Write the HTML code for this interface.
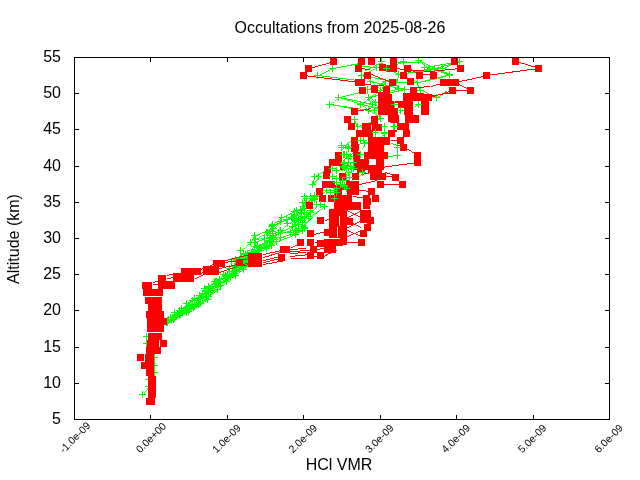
<!DOCTYPE html>
<html><head><meta charset="utf-8"><style>
html,body{margin:0;padding:0;background:#fff;width:640px;height:480px;overflow:hidden}
svg{display:block;will-change:transform}
.t{font-family:"Liberation Sans",sans-serif;font-size:16px;fill:#000}
.s{font-family:"Liberation Sans",sans-serif;font-size:10.4px;fill:#000}
</style></head><body>
<svg width="640" height="480" viewBox="0 0 640 480" shape-rendering="crispEdges">
<path d="M361.5 104.5L368.5 97.5M312.5 184.5L320.5 176.5M300.5 222.5L318.5 204.5M302.5 226.5L318.5 210.5M208.5 290.5L215.5 283.5M308.5 204.5L316.5 196.5M273.5 228.5L280.5 221.5M226.5 281.5L233.5 274.5M172.5 317.5L179.5 310.5M179.5 310.5L186.5 303.5M273.5 237.5L280.5 230.5M280.5 230.5L287.5 223.5M235.5 270.5L242.5 263.5M304.5 227.5L296.5 219.5M199.5 303.5L206.5 296.5M216.5 281.5L223.5 274.5M286.5 219.5L294.5 211.5M217.5 286.5L225.5 278.5" stroke="#00ff00" fill="none" stroke-width="0.7"/>
<path d="M300.5 214.5L316.5 196.5M290.5 236.5L312.5 216.5M269.5 240.5L278.5 232.5M217.5 289.5L226.5 281.5M174.5 318.5L183.5 310.5M370.5 81.5L380.5 90.5" stroke="#00ff00" fill="none" stroke-width="0.74"/>
<path d="M360.5 104.5L368.5 97.5M300.5 228.5L312.5 214.5M202.5 297.5L208.5 290.5M168.5 319.5L174.5 312.5M210.5 290.5L216.5 283.5M167.5 322.5L175.5 315.5M175.5 315.5L181.5 308.5M200.5 303.5L208.5 296.5M233.5 274.5L239.5 267.5M209.5 288.5L215.5 281.5M220.5 285.5L227.5 277.5M227.5 277.5L235.5 270.5M264.5 238.5L272.5 231.5M187.5 306.5L194.5 298.5M243.5 269.5L249.5 262.5" stroke="#00ff00" fill="none" stroke-width="0.76"/>
<path d="M329.5 104.5L338.5 97.5M420.5 62.5L430.5 70.5M341.5 147.5L350.5 140.5M290.5 228.5L310.5 212.5M215.5 283.5L225.5 275.5M291.5 217.5L300.5 210.5M200.5 298.5L210.5 290.5M230.5 276.5L239.5 269.5M272.5 224.5L281.5 217.5M240.5 250.5L250.5 242.5M208.5 296.5L217.5 289.5M295.5 234.5L304.5 227.5M178.5 313.5L187.5 306.5M207.5 291.5L216.5 284.5M384.5 133.5L375.5 140.5" stroke="#00ff00" fill="none" stroke-width="0.78"/>
<path d="M142.5 394.5L148.5 386.5M186.5 312.5L192.5 304.5M266.5 232.5L272.5 224.5M181.5 308.5L192.5 300.5M259.5 248.5L270.5 240.5M360.5 104.5L368.5 110.5M374.5 110.5L380.5 118.5M318.5 176.5L312.5 184.5" stroke="#00ff00" fill="none" stroke-width="0.8"/>
<path d="M436.5 97.5L446.5 90.5M292.5 224.5L312.5 210.5M192.5 304.5L202.5 297.5M272.5 239.5L267.5 232.5M267.5 232.5L272.5 225.5M300.5 210.5L305.5 203.5M259.5 247.5L269.5 240.5M188.5 311.5L198.5 304.5M200.5 297.5L205.5 290.5M234.5 271.5L244.5 264.5M199.5 295.5L209.5 288.5M199.5 295.5L204.5 288.5M204.5 288.5L214.5 281.5M210.5 292.5L220.5 285.5M242.5 263.5L252.5 256.5M266.5 248.5L276.5 241.5M269.5 245.5L264.5 238.5M168.5 320.5L178.5 313.5M197.5 300.5L202.5 293.5M249.5 264.5L244.5 257.5M381.5 61.5L386.5 68.5M368.5 97.5L375.5 102.5" stroke="#00ff00" fill="none" stroke-width="0.82"/>
<path d="M449.5 74.5L452.5 76.5M312.5 214.5L324.5 206.5M245.5 254.5L257.5 246.5M189.5 305.5L200.5 298.5M231.5 261.5L243.5 253.5M243.5 253.5L254.5 246.5M255.5 239.5L266.5 232.5M309.5 203.5L314.5 195.5M208.5 286.5L219.5 279.5M303.5 206.5L314.5 199.5M172.5 317.5L183.5 310.5M229.5 274.5L234.5 266.5M206.5 296.5L217.5 289.5M248.5 255.5L259.5 248.5M225.5 278.5L236.5 271.5M361.5 75.5L370.5 81.5M372.5 104.5L368.5 110.5M368.5 110.5L380.5 118.5" stroke="#00ff00" fill="none" stroke-width="0.84"/>
<path d="M354.5 119.5L358.5 126.5M314.5 176.5L324.5 170.5M316.5 196.5L330.5 188.5M225.5 275.5L229.5 268.5M243.5 261.5L255.5 254.5M255.5 254.5L259.5 247.5M244.5 264.5L240.5 257.5M250.5 242.5L254.5 235.5M239.5 260.5L253.5 252.5M253.5 252.5L257.5 245.5M215.5 281.5L227.5 274.5M243.5 266.5L239.5 259.5M267.5 245.5L280.5 237.5M186.5 303.5L199.5 295.5M180.5 314.5L194.5 306.5M252.5 256.5L266.5 248.5M223.5 274.5L235.5 267.5M230.5 277.5L243.5 269.5M179.5 315.5L193.5 307.5M193.5 307.5L197.5 300.5M380.5 90.5L368.5 97.5M368.5 97.5L372.5 104.5" stroke="#00ff00" fill="none" stroke-width="0.86"/>
<path d="M173.5 319.5L188.5 311.5M205.5 290.5L220.5 282.5M296.5 210.5L309.5 203.5M192.5 300.5L205.5 293.5M219.5 279.5L234.5 271.5M239.5 259.5L252.5 252.5M167.5 321.5L180.5 314.5M194.5 306.5L207.5 299.5M235.5 267.5L248.5 260.5M194.5 298.5L207.5 291.5M166.5 322.5L179.5 315.5M236.5 271.5L249.5 264.5M376.5 67.5L361.5 75.5M385.5 81.5L380.5 90.5" stroke="#00ff00" fill="none" stroke-width="0.88"/>
<path d="M317.5 75.5L332.5 68.5M364.5 70.5L380.5 62.5M442.5 68.5L450.5 64.5M368.5 111.5L378.5 106.5M290.5 232.5L306.5 224.5M171.5 319.5L186.5 312.5M257.5 246.5L272.5 239.5M174.5 312.5L189.5 305.5M216.5 283.5L230.5 276.5M239.5 269.5L243.5 261.5M294.5 211.5L308.5 204.5M220.5 282.5L235.5 275.5M281.5 217.5L296.5 210.5M170.5 317.5L185.5 310.5M185.5 310.5L200.5 303.5M257.5 245.5L271.5 238.5M227.5 274.5L243.5 266.5M252.5 252.5L267.5 245.5M214.5 281.5L229.5 274.5M287.5 223.5L301.5 216.5M216.5 284.5L230.5 277.5M271.5 226.5L286.5 219.5M202.5 293.5L217.5 286.5M244.5 257.5L258.5 250.5M258.5 250.5L254.5 242.5M418.5 60.5L434.5 68.5M332.5 68.5L317.5 75.5M386.5 68.5L398.5 74.5M396.5 82.5L380.5 90.5M375.5 102.5L378.5 108.5" stroke="#00ff00" fill="none" stroke-width="0.9"/>
<path d="M354.5 119.5L357.5 126.5M229.5 268.5L246.5 261.5M272.5 225.5L291.5 217.5M278.5 232.5L295.5 225.5M295.5 225.5L292.5 218.5M235.5 275.5L232.5 268.5M205.5 293.5L208.5 286.5M183.5 310.5L199.5 303.5M235.5 259.5L251.5 252.5M207.5 299.5L210.5 292.5M183.5 310.5L199.5 303.5M403.5 61.5L386.5 68.5M434.5 68.5L449.5 74.5M398.5 74.5L417.5 82.5M385.5 81.5L367.5 89.5M420.5 90.5L436.5 97.5M354.5 119.5L357.5 126.5" stroke="#00ff00" fill="none" stroke-width="0.92"/>
<path d="M450.5 64.5L459.5 61.5M437.5 78.5L449.5 74.5M254.5 235.5L273.5 228.5M280.5 221.5L301.5 213.5M251.5 252.5L271.5 245.5M276.5 241.5L295.5 234.5M247.5 253.5L269.5 245.5M254.5 242.5L272.5 235.5M396.5 82.5L398.5 88.5M417.5 82.5L420.5 90.5M380.5 118.5L357.5 126.5" stroke="#00ff00" fill="none" stroke-width="0.94"/>
<path d="M292.5 218.5L294.5 211.5M198.5 304.5L200.5 297.5M301.5 213.5L303.5 206.5M280.5 237.5L302.5 230.5M270.5 240.5L272.5 233.5M272.5 235.5L298.5 228.5M459.5 61.5L434.5 68.5M424.5 67.5L449.5 74.5M398.5 88.5L368.5 97.5M338.5 97.5L360.5 104.5" stroke="#00ff00" fill="none" stroke-width="0.96"/>
<path d="M332.5 68.5L358.5 63.5M338.5 97.5L358.5 92.5M329.5 104.5L352.5 108.5M398.5 74.5L420.5 70.5M420.5 70.5L434.5 68.5M417.5 82.5L436.5 78.5M404.5 89.5L398.5 88.5M440.5 72.5L449.5 74.5M329.5 104.5L340.5 106.5M340.5 106.5L350.5 108.5M246.5 261.5L245.5 254.5M305.5 203.5L304.5 196.5M232.5 268.5L231.5 261.5M254.5 246.5L255.5 239.5M234.5 266.5L235.5 259.5M271.5 245.5L273.5 237.5M248.5 260.5L247.5 253.5M249.5 262.5L248.5 255.5M272.5 233.5L271.5 226.5M459.5 61.5L424.5 67.5M361.5 75.5L396.5 82.5M398.5 74.5L396.5 82.5M449.5 74.5L417.5 82.5M370.5 81.5L398.5 88.5M404.5 89.5L368.5 97.5M338.5 97.5L372.5 104.5M329.5 104.5L368.5 110.5M360.5 104.5L378.5 108.5M378.5 108.5L380.5 118.5M357.5 126.5L375.5 130.5M375.5 140.5L341.5 147.5M314.5 176.5L312.5 184.5" stroke="#00ff00" fill="none" stroke-width="0.98"/>
<path d="M317.5 75.5L358.5 80.5M350.5 64.5L358.5 64.5M362.5 66.5L376.5 67.5M390.5 62.5L420.5 62.5M396.5 82.5L417.5 82.5M398.5 88.5L420.5 90.5M424.5 67.5L434.5 68.5M434.5 68.5L442.5 68.5M148.5 386.5L148.5 379.5M154.5 354.5L154.5 376.5M240.5 257.5L240.5 250.5M239.5 267.5L239.5 260.5M199.5 303.5L199.5 295.5M217.5 289.5L216.5 281.5M442.5 68.5L398.5 74.5M367.5 89.5L368.5 97.5M384.5 126.5L384.5 133.5M375.5 130.5L375.5 140.5M375.5 132.5L375.5 140.5" stroke="#00ff00" fill="none" stroke-width="1.0"/>
<path d="M329.0 68.5h7M332.5 65.0v7M314.0 75.5h7M317.5 72.0v7M358.0 75.5h7M361.5 72.0v7M335.0 97.5h7M338.5 94.0v7M326.0 104.5h7M329.5 101.0v7M357.0 104.5h7M360.5 101.0v7M365.0 97.5h7M368.5 94.0v7M365.0 110.5h7M368.5 107.0v7M351.0 119.5h7M354.5 116.0v7M354.0 126.5h7M357.5 123.0v7M378.0 61.5h7M381.5 58.0v7M373.0 67.5h7M376.5 64.0v7M383.0 68.5h7M386.5 65.0v7M367.0 81.5h7M370.5 78.0v7M382.0 81.5h7M385.5 78.0v7M364.0 89.5h7M367.5 86.0v7M377.0 90.5h7M380.5 87.0v7M400.0 61.5h7M403.5 58.0v7M415.0 60.5h7M418.5 57.0v7M421.0 67.5h7M424.5 64.0v7M395.0 74.5h7M398.5 71.0v7M393.0 82.5h7M396.5 79.0v7M414.0 82.5h7M417.5 79.0v7M395.0 88.5h7M398.5 85.0v7M401.0 89.5h7M404.5 86.0v7M417.0 90.5h7M420.5 87.0v7M456.0 61.5h7M459.5 58.0v7M431.0 68.5h7M434.5 65.0v7M439.0 68.5h7M442.5 65.0v7M446.0 74.5h7M449.5 71.0v7M433.0 97.5h7M436.5 94.0v7M369.0 104.5h7M372.5 101.0v7M372.0 102.5h7M375.5 99.0v7M371.0 110.5h7M374.5 107.0v7M375.0 108.5h7M378.5 105.0v7M377.0 118.5h7M380.5 115.0v7M381.0 126.5h7M384.5 123.0v7M372.0 130.5h7M375.5 127.0v7M338.0 147.5h7M341.5 144.0v7M345.0 148.5h7M348.5 145.0v7M372.0 132.5h7M375.5 129.0v7M372.0 140.5h7M375.5 137.0v7M381.0 133.5h7M384.5 130.0v7M311.0 176.5h7M314.5 173.0v7M315.0 176.5h7M318.5 173.0v7M309.0 184.5h7M312.5 181.0v7M303.0 198.5h7M306.5 195.0v7M307.0 196.5h7M310.5 193.0v7M299.0 202.5h7M302.5 199.0v7M301.0 208.5h7M304.5 205.0v7M297.0 212.5h7M300.5 209.0v7M303.0 214.5h7M306.5 211.0v7M307.0 212.5h7M310.5 209.0v7M299.0 220.5h7M302.5 217.0v7M305.0 218.5h7M308.5 215.0v7M299.0 226.5h7M302.5 223.0v7M311.0 198.5h7M314.5 195.0v7M309.0 200.5h7M312.5 197.0v7M291.0 214.5h7M294.5 211.0v7M297.0 212.5h7M300.5 209.0v7M301.0 212.5h7M304.5 209.0v7M307.0 210.5h7M310.5 207.0v7M291.0 220.5h7M294.5 217.0v7M295.0 218.5h7M298.5 215.0v7M301.0 218.5h7M304.5 215.0v7M305.0 216.5h7M308.5 213.0v7M289.0 226.5h7M292.5 223.0v7M295.0 224.5h7M298.5 221.0v7M299.0 222.5h7M302.5 219.0v7M287.0 232.5h7M290.5 229.0v7M293.0 230.5h7M296.5 227.0v7M301.0 228.5h7M304.5 225.0v7M151.0 357.5h7M154.5 354.0v7M151.0 365.5h7M154.5 362.0v7M151.0 372.5h7M154.5 369.0v7M139.0 394.5h7M142.5 391.0v7M145.0 386.5h7M148.5 383.0v7M145.0 379.5h7M148.5 376.0v7M143.0 336.5h7M146.5 333.0v7M143.0 343.5h7M146.5 340.0v7M168.0 319.5h7M171.5 316.0v7M183.0 312.5h7M186.5 309.0v7M189.0 304.5h7M192.5 301.0v7M199.0 297.5h7M202.5 294.0v7M205.0 290.5h7M208.5 287.0v7M212.0 283.5h7M215.5 280.0v7M222.0 275.5h7M225.5 272.0v7M226.0 268.5h7M229.5 265.0v7M243.0 261.5h7M246.5 258.0v7M242.0 254.5h7M245.5 251.0v7M254.0 246.5h7M257.5 243.0v7M269.0 239.5h7M272.5 236.0v7M264.0 232.5h7M267.5 229.0v7M269.0 225.5h7M272.5 222.0v7M288.0 217.5h7M291.5 214.0v7M297.0 210.5h7M300.5 207.0v7M302.0 203.5h7M305.5 200.0v7M301.0 196.5h7M304.5 193.0v7M165.0 319.5h7M168.5 316.0v7M171.0 312.5h7M174.5 309.0v7M186.0 305.5h7M189.5 302.0v7M197.0 298.5h7M200.5 295.0v7M207.0 290.5h7M210.5 287.0v7M213.0 283.5h7M216.5 280.0v7M227.0 276.5h7M230.5 273.0v7M236.0 269.5h7M239.5 266.0v7M240.0 261.5h7M243.5 258.0v7M252.0 254.5h7M255.5 251.0v7M256.0 247.5h7M259.5 244.0v7M266.0 240.5h7M269.5 237.0v7M275.0 232.5h7M278.5 229.0v7M292.0 225.5h7M295.5 222.0v7M289.0 218.5h7M292.5 215.0v7M291.0 211.5h7M294.5 208.0v7M305.0 204.5h7M308.5 201.0v7M313.0 196.5h7M316.5 193.0v7M170.0 319.5h7M173.5 316.0v7M185.0 311.5h7M188.5 308.0v7M195.0 304.5h7M198.5 301.0v7M197.0 297.5h7M200.5 294.0v7M202.0 290.5h7M205.5 287.0v7M217.0 282.5h7M220.5 279.0v7M232.0 275.5h7M235.5 272.0v7M229.0 268.5h7M232.5 265.0v7M228.0 261.5h7M231.5 258.0v7M240.0 253.5h7M243.5 250.0v7M251.0 246.5h7M254.5 243.0v7M252.0 239.5h7M255.5 236.0v7M263.0 232.5h7M266.5 229.0v7M269.0 224.5h7M272.5 221.0v7M278.0 217.5h7M281.5 214.0v7M293.0 210.5h7M296.5 207.0v7M306.0 203.5h7M309.5 200.0v7M311.0 195.5h7M314.5 192.0v7M164.0 322.5h7M167.5 319.0v7M172.0 315.5h7M175.5 312.0v7M178.0 308.5h7M181.5 305.0v7M189.0 300.5h7M192.5 297.0v7M202.0 293.5h7M205.5 290.0v7M205.0 286.5h7M208.5 283.0v7M216.0 279.5h7M219.5 276.0v7M231.0 271.5h7M234.5 268.0v7M241.0 264.5h7M244.5 261.0v7M237.0 257.5h7M240.5 254.0v7M237.0 250.5h7M240.5 247.0v7M247.0 242.5h7M250.5 239.0v7M251.0 235.5h7M254.5 232.0v7M270.0 228.5h7M273.5 225.0v7M277.0 221.5h7M280.5 218.0v7M298.0 213.5h7M301.5 210.0v7M300.0 206.5h7M303.5 203.0v7M311.0 199.5h7M314.5 196.0v7M167.0 317.5h7M170.5 314.0v7M182.0 310.5h7M185.5 307.0v7M197.0 303.5h7M200.5 300.0v7M205.0 296.5h7M208.5 293.0v7M214.0 289.5h7M217.5 286.0v7M223.0 281.5h7M226.5 278.0v7M230.0 274.5h7M233.5 271.0v7M236.0 267.5h7M239.5 264.0v7M236.0 260.5h7M239.5 257.0v7M250.0 252.5h7M253.5 249.0v7M254.0 245.5h7M257.5 242.0v7M268.0 238.5h7M271.5 235.0v7M169.0 317.5h7M172.5 314.0v7M180.0 310.5h7M183.5 307.0v7M196.0 303.5h7M199.5 300.0v7M196.0 295.5h7M199.5 292.0v7M206.0 288.5h7M209.5 285.0v7M212.0 281.5h7M215.5 278.0v7M224.0 274.5h7M227.5 271.0v7M240.0 266.5h7M243.5 263.0v7M236.0 259.5h7M239.5 256.0v7M249.0 252.5h7M252.5 249.0v7M264.0 245.5h7M267.5 242.0v7M277.0 237.5h7M280.5 234.0v7M299.0 230.5h7M302.5 227.0v7M169.0 317.5h7M172.5 314.0v7M176.0 310.5h7M179.5 307.0v7M183.0 303.5h7M186.5 300.0v7M196.0 295.5h7M199.5 292.0v7M201.0 288.5h7M204.5 285.0v7M211.0 281.5h7M214.5 278.0v7M226.0 274.5h7M229.5 271.0v7M231.0 266.5h7M234.5 263.0v7M232.0 259.5h7M235.5 256.0v7M248.0 252.5h7M251.5 249.0v7M268.0 245.5h7M271.5 242.0v7M270.0 237.5h7M273.5 234.0v7M277.0 230.5h7M280.5 227.0v7M284.0 223.5h7M287.5 220.0v7M298.0 216.5h7M301.5 213.0v7M164.0 321.5h7M167.5 318.0v7M177.0 314.5h7M180.5 311.0v7M191.0 306.5h7M194.5 303.0v7M204.0 299.5h7M207.5 296.0v7M207.0 292.5h7M210.5 289.0v7M217.0 285.5h7M220.5 282.0v7M224.0 277.5h7M227.5 274.0v7M232.0 270.5h7M235.5 267.0v7M239.0 263.5h7M242.5 260.0v7M249.0 256.5h7M252.5 253.0v7M263.0 248.5h7M266.5 245.0v7M273.0 241.5h7M276.5 238.0v7M292.0 234.5h7M295.5 231.0v7M301.0 227.5h7M304.5 224.0v7M293.0 219.5h7M296.5 216.0v7M171.0 318.5h7M174.5 315.0v7M180.0 310.5h7M183.5 307.0v7M196.0 303.5h7M199.5 300.0v7M203.0 296.5h7M206.5 293.0v7M214.0 289.5h7M217.5 286.0v7M213.0 281.5h7M216.5 278.0v7M220.0 274.5h7M223.5 271.0v7M232.0 267.5h7M235.5 264.0v7M245.0 260.5h7M248.5 257.0v7M244.0 253.5h7M247.5 250.0v7M266.0 245.5h7M269.5 242.0v7M261.0 238.5h7M264.5 235.0v7M269.0 231.5h7M272.5 228.0v7M165.0 320.5h7M168.5 317.0v7M175.0 313.5h7M178.5 310.0v7M184.0 306.5h7M187.5 303.0v7M191.0 298.5h7M194.5 295.0v7M204.0 291.5h7M207.5 288.0v7M213.0 284.5h7M216.5 281.0v7M227.0 277.5h7M230.5 274.0v7M240.0 269.5h7M243.5 266.0v7M246.0 262.5h7M249.5 259.0v7M245.0 255.5h7M248.5 252.0v7M256.0 248.5h7M259.5 245.0v7M267.0 240.5h7M270.5 237.0v7M269.0 233.5h7M272.5 230.0v7M268.0 226.5h7M271.5 223.0v7M283.0 219.5h7M286.5 216.0v7M291.0 211.5h7M294.5 208.0v7M163.0 322.5h7M166.5 319.0v7M176.0 315.5h7M179.5 312.0v7M190.0 307.5h7M193.5 304.0v7M194.0 300.5h7M197.5 297.0v7M199.0 293.5h7M202.5 290.0v7M214.0 286.5h7M217.5 283.0v7M222.0 278.5h7M225.5 275.0v7M233.0 271.5h7M236.5 268.0v7M246.0 264.5h7M249.5 261.0v7M241.0 257.5h7M244.5 254.0v7M255.0 250.5h7M258.5 247.0v7M251.0 242.5h7M254.5 239.0v7M269.0 235.5h7M272.5 232.0v7M295.0 228.5h7M298.5 225.0v7" stroke="#00ff00" fill="none" stroke-width="1"/>
<path d="M395.5 176.5L402.5 184.5" stroke="#ff0000" fill="none" stroke-width="0.76"/>
<path d="M403.5 147.5L417.5 155.5" stroke="#ff0000" fill="none" stroke-width="0.86"/>
<path d="M407.5 68.5L419.5 74.5M454.5 82.5L470.5 90.5M346.5 210.5L360.5 217.5M346.5 217.5L360.5 210.5M346.5 220.5L360.5 227.5M346.5 227.5L360.5 220.5M290.5 247.5L300.5 242.5M194.5 278.5L202.5 274.5" stroke="#ff0000" fill="none" stroke-width="0.9"/>
<path d="M370.5 74.5L390.5 82.5M324.5 220.5L334.5 216.5M346.5 230.5L360.5 236.5M346.5 236.5L360.5 230.5M322.5 256.5L336.5 250.5M202.5 268.5L212.5 264.5" stroke="#ff0000" fill="none" stroke-width="0.92"/>
<path d="M384.5 172.5L395.5 176.5M218.5 272.5L236.5 266.5M242.5 264.5L248.5 262.5" stroke="#ff0000" fill="none" stroke-width="0.94"/>
<path d="M333.5 61.5L308.5 68.5M430.5 86.5L443.5 82.5M428.5 97.5L452.5 90.5M515.5 61.5L538.5 68.5M390.5 143.5L403.5 147.5M262.5 257.5L280.5 252.5" stroke="#ff0000" fill="none" stroke-width="0.96"/>
<path d="M354.5 111.5L370.5 108.5M454.5 82.5L486.5 75.5M428.5 96.5L450.5 92.5M358.5 184.5L376.5 180.5M360.5 174.5L370.5 172.5M352.5 196.5L366.5 198.5M312.5 234.5L330.5 230.5M312.5 250.5L330.5 246.5M194.5 270.5L202.5 268.5M194.5 274.5L202.5 272.5M218.5 268.5L236.5 264.5M242.5 259.5L248.5 258.5M242.5 265.5L248.5 264.5M262.5 254.5L280.5 250.5M262.5 260.5L278.5 256.5M262.5 262.5L278.5 258.5M262.5 264.5L284.5 260.5M224.5 260.5L248.5 254.5" stroke="#ff0000" fill="none" stroke-width="0.98"/>
<path d="M303.5 75.5L359.5 82.5M358.5 68.5L370.5 69.5M364.5 84.5L390.5 86.5M419.5 74.5L430.5 74.5M417.5 87.5L430.5 86.5M393.5 68.5L430.5 71.5M430.5 71.5L460.5 68.5M452.5 90.5L470.5 90.5M486.5 75.5L538.5 68.5M390.5 140.5L396.5 140.5M381.5 167.5L417.5 162.5M359.5 190.5L371.5 191.5M382.5 176.5L395.5 176.5M380.5 184.5L402.5 184.5M346.5 242.5L358.5 242.5M290.5 249.5L306.5 248.5M290.5 251.5L310.5 250.5M290.5 253.5L306.5 252.5M290.5 256.5L310.5 254.5M290.5 258.5L310.5 258.5M312.5 256.5L320.5 256.5M314.5 242.5L324.5 242.5M224.5 262.5L239.5 260.5" stroke="#ff0000" fill="none" stroke-width="1.0"/>
<path d="M330 58h7v7h-7zM305 65h7v7h-7zM300 72h7v7h-7zM358 58h7v7h-7zM355 65h7v7h-7zM364 72h7v7h-7zM356 79h7v7h-7zM359 87h7v7h-7zM351 108h7v7h-7zM344 116h7v7h-7zM348 123h7v7h-7zM368 58h7v7h-7zM379 64h7v7h-7zM386 65h7v7h-7zM355 79h7v7h-7zM358 79h7v7h-7zM371 86h7v7h-7zM383 87h7v7h-7zM390 58h7v7h-7zM390 65h7v7h-7zM404 65h7v7h-7zM400 72h7v7h-7zM416 72h7v7h-7zM389 79h7v7h-7zM407 78h7v7h-7zM410 87h7v7h-7zM451 58h7v7h-7zM457 65h7v7h-7zM430 72h7v7h-7zM483 72h7v7h-7zM440 79h7v7h-7zM446 79h7v7h-7zM452 79h7v7h-7zM449 87h7v7h-7zM467 87h7v7h-7zM425 94h7v7h-7zM512 58h7v7h-7zM535 65h7v7h-7zM421 94h7v7h-7zM422 100h7v7h-7zM422 108h7v7h-7zM358 130h7v7h-7zM351 138h7v7h-7zM352 144h7v7h-7zM388 130h7v7h-7zM403 130h7v7h-7zM397 137h7v7h-7zM400 144h7v7h-7zM414 152h7v7h-7zM414 159h7v7h-7zM335 152h7v7h-7zM329 159h7v7h-7zM334 159h7v7h-7zM324 166h7v7h-7zM323 172h7v7h-7zM322 181h7v7h-7zM328 181h7v7h-7zM339 173h7v7h-7zM316 188h7v7h-7zM379 173h7v7h-7zM352 173h7v7h-7zM348 181h7v7h-7zM352 181h7v7h-7zM377 181h7v7h-7zM368 188h7v7h-7zM372 195h7v7h-7zM363 195h7v7h-7zM363 202h7v7h-7zM392 174h7v7h-7zM399 181h7v7h-7zM319 195h7v7h-7zM328 195h7v7h-7zM306 202h7v7h-7zM317 217h7v7h-7zM307 230h7v7h-7zM364 198h7v7h-7zM360 210h7v7h-7zM364 210h7v7h-7zM360 216h7v7h-7zM367 217h7v7h-7zM364 224h7v7h-7zM360 230h7v7h-7zM358 239h7v7h-7zM346 218h7v7h-7zM297 239h7v7h-7zM307 239h7v7h-7zM310 246h7v7h-7zM307 252h7v7h-7zM317 240h7v7h-7zM324 239h7v7h-7zM329 239h7v7h-7zM324 246h7v7h-7zM329 246h7v7h-7zM317 252h7v7h-7zM340 238h7v7h-7zM336 239h7v7h-7zM236 259h7v7h-7zM278 254h7v7h-7zM194 268h7v7h-7zM372 124h7v7h-7zM375 124h7v7h-7z" fill="#ff0000"/>
<path d="M378 92H390V115H378zM361.7 123H371V132H361.7zM370.8 115.75H378.3V125.3H370.8zM387.5 115H390V122H387.5zM402.5 93H424V101H402.5zM424 95H430V101H424zM390 93.7H391.7V101H390zM390 101H428.5V115.3H390zM390 115.3H418.75V123H390zM390 123H409.2V132H390zM356 130H373V137H356zM351 137H358V151.5H351zM368 137H380V151.5H368zM353 151.5H360V170H353zM364 151.5H380V170H364zM340 151.5H342V170H340zM358 158.75H364V170H358zM380 137H390V144.6H380zM380 144H383.75V152H380zM380 152H388V158.75H380zM380 158.75H383.75V170H380zM345.8 179.6H350V190H345.8zM357.2 165H365V172.8H357.2zM367.6 165H382.2V172.8H367.6zM369.5 172.8H379V179.6H369.5zM340 187.4H352V202H340zM347.8 187.4H358.75V195H347.8zM340 202H360.8V209.8H340zM340 209.8H347.3V215H340zM359.8 209.8H371.25V215H359.8zM334.4 185H350V209.5H334.4zM329 209.5H347V236H329zM324 228.75H329V236H324zM350 202H360.6V208.75H350zM329 209H347V237.7H329zM142 281.8H152V289H142zM143 289H163V296H143zM158.2 275H166V289H158.2zM163 280.7H175V288.5H163zM173.3 273H181V282.3H173.3zM181 267.7H194V281.8H181zM202.5 265.6H218.75V275H202.5zM213 260H225V267H213zM248 253H262V267H248zM280 245.6H290V253H280zM146 398H155V405H146zM148 391H156V398H148zM148 376H156V391H148zM146 362H154V376H146zM141 362H146V369H141zM137 354H144V361H137zM145 354H154V362H145zM146 350H161V354H146zM145 297H162V304H145zM148 304H162V311H148zM146 311H164V318H146zM147 318H167V325H147zM147 325H164V332H147zM148 333H162V340H148zM147 340H159V347H147zM160 340H167V347H160zM146 347H161V354H146z" fill="#ff0000"/>
<path d="M391.7 93.7H403V100.75H391.7zM393.75 103H397.5V108H393.75zM398 108H403.75V114.5H398zM413 100.75H421V115.3H413zM398.75 115.3H405V122.8H398.75zM390 123H396.7V129.5H390zM397 130H403V132H397zM369 159H376V165.4H369zM342 189.5H346.8V195.2H342zM339 216H340V226H339zM337 227H338V237H337zM152.5 282.5H158V288.5H152.5zM166.5 276H173V281H166.5z" fill="#fff"/>
<path d="M398.5 112.5L402.5 108.5M340.5 150.5L350.5 140.5M358.5 176.5L364.5 170.5" stroke="#00ff00" fill="none" stroke-width="0.7"/>
<path d="M342.5 160.5L352.5 152.5" stroke="#00ff00" fill="none" stroke-width="0.78"/>
<path d="M413.5 106.5L418.5 104.5M364.5 143.5L362.5 148.5" stroke="#00ff00" fill="none" stroke-width="0.92"/>
<path d="M390.5 143.5L396.5 145.5" stroke="#00ff00" fill="none" stroke-width="0.94"/>
<path d="M340.5 170.5L354.5 166.5" stroke="#00ff00" fill="none" stroke-width="0.96"/>
<path d="M388.5 156.5L397.5 155.5M397.5 147.5L397.5 155.5" stroke="#00ff00" fill="none" stroke-width="1.0"/>
<path d="M152.5 282.5L158.5 280.5" stroke="#ff0000" fill="none" stroke-width="0.94"/>
<path d="M166.5 275.5L173.5 273.5" stroke="#ff0000" fill="none" stroke-width="0.96"/>
<path d="M166.5 278.5L172.5 277.5" stroke="#ff0000" fill="none" stroke-width="0.98"/>
<path d="M152.5 284.5L158.5 284.5" stroke="#ff0000" fill="none" stroke-width="1.0"/>
<path d="M381.0 126.5h7M384.5 123.0v7M391.0 126.5h7M394.5 123.0v7M372.0 132.5h7M375.5 129.0v7M381.0 132.5h7M384.5 129.0v7M415.0 104.5h7M418.5 101.0v7M390.0 126.5h7M393.5 123.0v7M391.0 104.5h7M394.5 101.0v7M397.0 110.5h7M400.5 107.0v7M340.0 154.5h7M343.5 151.0v7M343.0 154.5h7M346.5 151.0v7M347.0 156.5h7M350.5 153.0v7M340.0 163.5h7M343.5 160.0v7M345.0 162.5h7M348.5 159.0v7M350.0 162.5h7M353.5 159.0v7M341.0 167.5h7M344.5 164.0v7M348.0 168.5h7M351.5 165.0v7M357.0 140.5h7M360.5 137.0v7M360.0 140.5h7M363.5 137.0v7M361.0 143.5h7M364.5 140.0v7M338.0 145.5h7M341.5 142.0v7M345.0 147.5h7M348.5 144.0v7M357.0 154.5h7M360.5 151.0v7M394.0 155.5h7M397.5 152.0v7M394.0 147.5h7M397.5 144.0v7M341.0 154.5h7M344.5 151.0v7M345.0 158.5h7M348.5 155.0v7M341.0 162.5h7M344.5 159.0v7M344.0 165.5h7M347.5 162.0v7M329.0 168.5h7M332.5 165.0v7M333.0 170.5h7M336.5 167.0v7M329.0 176.5h7M332.5 173.0v7M333.0 178.5h7M336.5 175.0v7M345.0 172.5h7M348.5 169.0v7M343.0 177.5h7M346.5 174.0v7M333.0 182.5h7M336.5 179.0v7M337.0 184.5h7M340.5 181.0v7M341.0 186.5h7M344.5 183.0v7M333.0 188.5h7M336.5 185.0v7M343.0 188.5h7M346.5 185.0v7M339.0 180.5h7M342.5 177.0v7M339.0 166.5h7M342.5 163.0v7M343.0 168.5h7M346.5 165.0v7M347.0 166.5h7M350.5 163.0v7M350.0 168.5h7M353.5 165.0v7M339.0 184.5h7M342.5 181.0v7M341.0 185.5h7M344.5 182.0v7M359.0 172.5h7M362.5 169.0v7M346.0 177.5h7M349.5 174.0v7M323.0 190.5h7M326.5 187.0v7M327.0 192.5h7M330.5 189.0v7M331.0 190.5h7M334.5 187.0v7M333.0 192.5h7M336.5 189.0v7M313.0 204.5h7M316.5 201.0v7M317.0 204.5h7M320.5 201.0v7M321.0 206.5h7M324.5 203.0v7M331.0 198.5h7M334.5 195.0v7M383.0 68.5h7M386.5 65.0v7" stroke="#00ff00" fill="none" stroke-width="1"/>
<rect x="74.5" y="57.5" width="535" height="362" fill="none" stroke="#000" stroke-width="1"/>
<path d="M74 419.5h5M610 419.5h-5M74 383.5h5M610 383.5h-5M74 347.5h5M610 347.5h-5M74 310.5h5M610 310.5h-5M74 274.5h5M610 274.5h-5M74 238.5h5M610 238.5h-5M74 202.5h5M610 202.5h-5M74 166.5h5M610 166.5h-5M74 129.5h5M610 129.5h-5M74 93.5h5M610 93.5h-5M74 57.5h5M610 57.5h-5M74.5 420v-5M74.5 57v5M150.5 420v-5M150.5 57v5M227.5 420v-5M227.5 57v5M303.5 420v-5M303.5 57v5M380.5 420v-5M380.5 57v5M456.5 420v-5M456.5 57v5M533.5 420v-5M533.5 57v5M609.5 420v-5M609.5 57v5" stroke="#000" stroke-width="1" fill="none"/>
<text x="61" y="424" text-anchor="end" class="t">5</text>
<text x="61" y="388" text-anchor="end" class="t">10</text>
<text x="61" y="352" text-anchor="end" class="t">15</text>
<text x="61" y="315" text-anchor="end" class="t">20</text>
<text x="61" y="279" text-anchor="end" class="t">25</text>
<text x="61" y="243" text-anchor="end" class="t">30</text>
<text x="61" y="207" text-anchor="end" class="t">35</text>
<text x="61" y="171" text-anchor="end" class="t">40</text>
<text x="61" y="134" text-anchor="end" class="t">45</text>
<text x="61" y="98" text-anchor="end" class="t">50</text>
<text x="61" y="62" text-anchor="end" class="t">55</text>
<text transform="translate(63.70,453.6) rotate(-45)" text-anchor="start" class="s">-1.0e-09</text>
<text transform="translate(140.13,453.6) rotate(-45)" text-anchor="start" class="s">0.0e+00</text>
<text transform="translate(216.56,453.6) rotate(-45)" text-anchor="start" class="s">1.0e-09</text>
<text transform="translate(292.99,453.6) rotate(-45)" text-anchor="start" class="s">2.0e-09</text>
<text transform="translate(369.41,453.6) rotate(-45)" text-anchor="start" class="s">3.0e-09</text>
<text transform="translate(445.84,453.6) rotate(-45)" text-anchor="start" class="s">4.0e-09</text>
<text transform="translate(522.27,453.6) rotate(-45)" text-anchor="start" class="s">5.0e-09</text>
<text transform="translate(598.70,453.6) rotate(-45)" text-anchor="start" class="s">6.0e-09</text>
<text x="340" y="33" text-anchor="middle" class="t">Occultations from 2025-08-26</text>
<text x="339" y="470" text-anchor="middle" class="t">HCl VMR</text>
<text transform="translate(19,239) rotate(-90)" text-anchor="middle" class="t">Altitude (km)</text>
</svg></body></html>
